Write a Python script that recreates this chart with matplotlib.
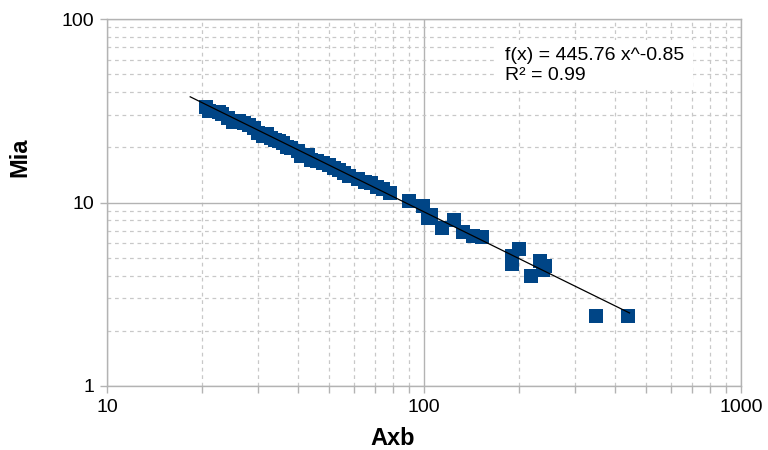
import matplotlib
matplotlib.use("Agg")
import matplotlib.pyplot as plt
import numpy as np
from matplotlib.ticker import LogLocator, NullFormatter, FixedLocator, FixedFormatter
from matplotlib.patches import Rectangle

plt.rcParams['font.family'] = ['Liberation Sans', 'DejaVu Sans']

# Data
axb = [20.5, 21.0, 22.5, 23.0, 24.0, 25.0, 26.0, 27.0, 28.0, 29.0,
       30.0, 31.0, 32.0, 33.0, 34.0, 35.0, 36.0, 37.0, 38.0, 40.0,
       41.0, 43.0, 44.0, 46.0, 48.0, 50.0, 52.0, 54.0, 56.0, 58.0,
       62.0, 65.0, 68.0, 71.0, 74.0, 78.0, 90.0, 99.0, 103.0, 105.0,
       114.0, 124.0, 133.0, 143.0, 152.0, 189.0, 189.0, 199.0, 217.0, 233.0,
       237.0, 240.0, 349.0, 440.0]
mia = [33.0, 31.5, 31.0, 30.5, 29.0, 27.5, 27.8, 27.0, 26.5, 25.5,
       24.0, 23.0, 23.5, 22.5, 22.0, 21.5, 21.0, 20.0, 19.8, 19.0,
       18.0, 18.2, 17.0, 16.8, 16.5, 16.0, 15.5, 15.0, 14.5, 14.0,
       13.5, 13.0, 12.8, 12.2, 11.8, 11.3, 10.2, 9.6, 8.2, 8.6,
       7.3, 8.0, 6.9, 6.6, 6.5, 5.1, 4.6, 5.6, 4.0, 4.8,
       4.3, 4.5, 2.4, 2.4]

fit_a = 445.76
fit_b = -0.85
fit_r2 = 0.99
fit_range = [18.3, 445.0]

x_ticks = [10, 100, 1000]
x_tick_labels = ["10", "100", "1000"]
y_ticks = [1, 10, 100]
y_tick_labels = ["1", "10", "100"]

fig = plt.figure(figsize=(7.68, 4.5), dpi=100)
ax = fig.add_axes([107/768, 1-386/450, (741-107)/768, (386-19)/450])
ax.set_xscale('log')
ax.set_yscale('log')
ax.set_xlim(10, 1000)
ax.set_ylim(1, 100)

grid_major = '#b3b3b3'
grid_minor = '#c8c8c8'
ax.grid(True, which='major', color=grid_major, linewidth=1.0, linestyle='-')
ax.grid(True, which='minor', color=grid_minor, linewidth=0.9, linestyle=(0, (3, 3)))
ax.set_axisbelow(True)

ax.xaxis.set_major_locator(FixedLocator(x_ticks))
ax.xaxis.set_major_formatter(FixedFormatter(x_tick_labels))
ax.yaxis.set_major_locator(FixedLocator(y_ticks))
ax.yaxis.set_major_formatter(FixedFormatter(y_tick_labels))
ax.xaxis.set_minor_locator(LogLocator(base=10, subs=np.arange(2, 10)))
ax.yaxis.set_minor_locator(LogLocator(base=10, subs=np.arange(2, 10)))
ax.xaxis.set_minor_formatter(NullFormatter())
ax.yaxis.set_minor_formatter(NullFormatter())

ax.tick_params(axis='both', which='major', direction='out', length=5, width=1,
               color=grid_major, labelsize=14, labelcolor='black', pad=4)
ax.tick_params(axis='x', which='minor', direction='out', length=5, width=1, color=grid_major)
ax.tick_params(axis='y', which='minor', length=0)
for s in ax.spines.values():
    s.set_color(grid_major)
    s.set_linewidth(1.0)

ax.scatter(axb, mia, marker='s', s=95, color='#004586', linewidths=0, zorder=3)

xf = np.logspace(np.log10(fit_range[0]), np.log10(fit_range[1]), 100)
ax.plot(xf, fit_a * xf ** fit_b, color='black', linewidth=0.9, zorder=4)

# white background behind the equation
fig.patches.append(Rectangle((497/768, 1-88/450), (693-497)/768, (88-40)/450,
                             transform=fig.transFigure, facecolor='white',
                             edgecolor='none', zorder=2))
fig.text(505/768, 1-59.5/450, "f(x) = 445.76 x^-0.85", fontsize=14,
         ha='left', va='baseline', zorder=6)
fig.text(505/768, 1-80.5/450, "R² = 0.99", fontsize=14,
         ha='left', va='baseline', zorder=6)

ax.set_xlabel("Axb", fontsize=17, fontweight='bold')
ax.set_ylabel("Mia", fontsize=17, fontweight='bold')
ax.xaxis.set_label_coords((393-107)/634, (386-427)/367)
ax.yaxis.set_label_coords((31-107)/634, (386-157)/367)

fig.savefig("out.png", dpi=100)
